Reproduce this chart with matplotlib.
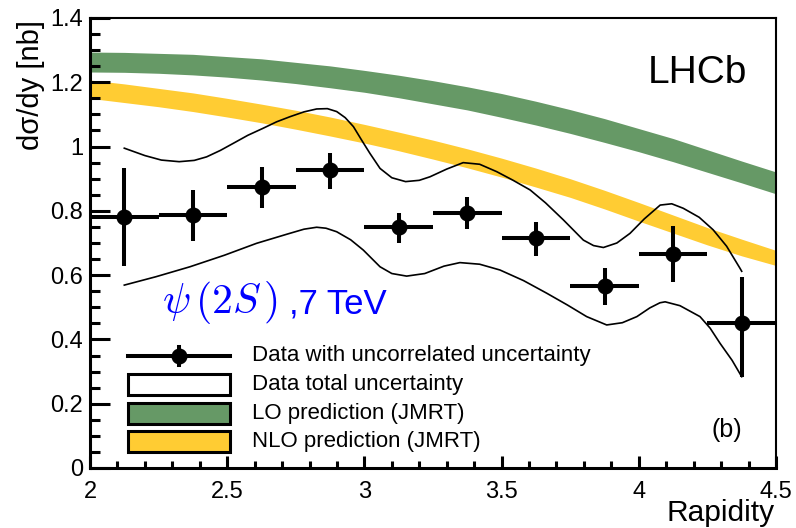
import matplotlib
matplotlib.use("Agg")
import matplotlib.pyplot as plt
from matplotlib.patches import Rectangle
from matplotlib.ticker import MultipleLocator, FormatStrFormatter
import numpy as np

plt.rcParams['font.family'] = ['Liberation Sans', 'DejaVu Sans']
plt.rcParams['mathtext.fontset'] = 'cm'

# ---- data ----
bin_centres = [2.125, 2.375, 2.625, 2.875, 3.125, 3.375, 3.625, 3.875, 4.125, 4.375]
bin_halfwidth = 0.125
xsec = [0.782, 0.787, 0.873, 0.927, 0.751, 0.794, 0.715, 0.566, 0.666, 0.452]
err_up = [0.932, 0.865, 0.937, 0.981, 0.794, 0.844, 0.764, 0.621, 0.753, 0.595]
err_lo = [0.630, 0.707, 0.810, 0.868, 0.699, 0.744, 0.660, 0.507, 0.580, 0.284]

tot_up_x = [2.125, 2.20, 2.26, 2.325, 2.38, 2.425, 2.475, 2.522, 2.575, 2.631, 2.68, 2.729,
            2.78, 2.826, 2.865, 2.899, 2.93, 2.96, 2.99, 3.02, 3.057, 3.10, 3.15, 3.20,
            3.239, 3.30, 3.36, 3.42, 3.482, 3.54, 3.604, 3.66, 3.725, 3.798, 3.835, 3.871,
            3.92, 3.968, 4.02, 4.078, 4.12, 4.162, 4.22, 4.271, 4.32, 4.369, 4.375]
tot_up_y = [0.995, 0.972, 0.958, 0.953, 0.957, 0.968, 0.988, 1.010, 1.035, 1.057, 1.077, 1.093,
            1.108, 1.117, 1.118, 1.109, 1.090, 1.062, 1.020, 0.979, 0.932, 0.903, 0.891, 0.895,
            0.906, 0.930, 0.950, 0.945, 0.922, 0.896, 0.865, 0.825, 0.772, 0.709, 0.692, 0.686,
            0.700, 0.730, 0.775, 0.818, 0.822, 0.808, 0.780, 0.741, 0.690, 0.621, 0.612]

tot_lo_x = [2.125, 2.24, 2.364, 2.49, 2.607, 2.72, 2.78, 2.826, 2.86, 2.899, 2.95, 2.996,
            3.057, 3.10, 3.154, 3.22, 3.29, 3.348, 3.42, 3.494, 3.58, 3.664, 3.74, 3.81,
            3.883, 3.94, 3.993, 4.04, 4.077, 4.096, 4.15, 4.223, 4.26, 4.296, 4.34, 4.375]
tot_lo_y = [0.569, 0.595, 0.626, 0.662, 0.699, 0.728, 0.743, 0.749, 0.746, 0.735, 0.710, 0.678,
            0.626, 0.605, 0.597, 0.605, 0.628, 0.639, 0.634, 0.616, 0.583, 0.544, 0.507, 0.471,
            0.445, 0.452, 0.471, 0.498, 0.514, 0.517, 0.505, 0.471, 0.435, 0.388, 0.335, 0.284]

band_x = [2.0, 2.125, 2.25, 2.375, 2.5, 2.625, 2.75, 2.875, 3.0, 3.125, 3.25,
          3.375, 3.5, 3.625, 3.75, 3.875, 4.0, 4.125, 4.25, 4.375, 4.5]
lo_band_low = [1.232, 1.231, 1.228, 1.223, 1.216, 1.207, 1.196, 1.183, 1.169, 1.152, 1.133,
               1.114, 1.091, 1.067, 1.041, 1.013, 0.984, 0.953, 0.920, 0.887, 0.853]
lo_band_high = [1.294, 1.293, 1.290, 1.287, 1.280, 1.273, 1.262, 1.251, 1.237, 1.222, 1.205,
                1.186, 1.165, 1.141, 1.115, 1.087, 1.056, 1.025, 0.990, 0.955, 0.921]
nlo_band_low = [1.150, 1.137, 1.124, 1.109, 1.092, 1.074, 1.054, 1.033, 1.011, 0.987, 0.961,
                0.934, 0.905, 0.874, 0.842, 0.806, 0.768, 0.731, 0.694, 0.660, 0.630]
nlo_band_high = [1.207, 1.195, 1.181, 1.167, 1.150, 1.132, 1.113, 1.092, 1.069, 1.045, 1.020,
                 0.993, 0.964, 0.933, 0.900, 0.864, 0.826, 0.787, 0.748, 0.712, 0.677]

legend_labels = ["Data with uncorrelated uncertainty", "Data total uncertainty",
                 "LO prediction (JMRT)", "NLO prediction (JMRT)"]

GREEN = '#669966'
YELLOW = '#ffcc33'
BLUE = '#0000ff'

# ---- figure ----
W, H = 796, 528
fig = plt.figure(figsize=(W / 100, H / 100), dpi=100)
AX_L, AX_R, AX_T, AX_B = 90, 776, 18, 468
ax = fig.add_axes([AX_L / W, (H - AX_B) / H, (AX_R - AX_L) / W, (AX_B - AX_T) / H])


def pa(x, y):
    """pixel position -> axes fraction"""
    return ((x - AX_L) / (AX_R - AX_L), (AX_B - y) / (AX_B - AX_T))


ax.fill_between(band_x, lo_band_low, lo_band_high, color=GREEN, lw=0, zorder=1)
ax.fill_between(band_x, nlo_band_low, nlo_band_high, color=YELLOW, lw=0, zorder=1)

ax.plot(tot_up_x, tot_up_y, color='k', lw=1.2, zorder=2, solid_joinstyle='round')
ax.plot(tot_lo_x, tot_lo_y, color='k', lw=1.2, zorder=2, solid_joinstyle='round')

xs = np.array(xsec)
yerr = [xs - np.array(err_lo), np.array(err_up) - xs]
ax.errorbar(bin_centres, xsec, xerr=bin_halfwidth, yerr=yerr, fmt='o', color='k',
            ms=10.5, elinewidth=2.9, capsize=0, zorder=3)

ax.set_xlim(2.0, 4.5)
ax.set_ylim(0, 1.4)
ax.xaxis.set_major_locator(MultipleLocator(0.5))
ax.xaxis.set_minor_locator(MultipleLocator(0.1))
ax.yaxis.set_major_locator(MultipleLocator(0.2))
ax.yaxis.set_minor_locator(MultipleLocator(0.05))
ax.xaxis.set_major_formatter(FormatStrFormatter('%g'))
ax.yaxis.set_major_formatter(FormatStrFormatter('%g'))
ax.tick_params(axis='both', which='both', direction='in', top=False, right=False,
               width=2.2, labelsize=17)
ax.tick_params(axis='y', which='major', length=14.4, pad=5)
ax.tick_params(axis='y', which='minor', length=7.2)
ax.tick_params(axis='x', which='major', length=8.6, pad=9)
ax.tick_params(axis='x', which='minor', length=5)
for s in ['left', 'bottom']:
    ax.spines[s].set_linewidth(2.2)
for s in ['top', 'right']:
    ax.spines[s].set_linewidth(1.5)

fig.text(31 / W, 1 - 20 / H, 'd\u03c3/dy [nb]', rotation=90, ha='center', va='top', fontsize=21)
fig.text(775 / W, 1 - 521 / H, 'Rapidity', ha='right', va='baseline', fontsize=21.5)

ax.text(*pa(747, 83), 'LHCb', transform=ax.transAxes, ha='right', va='baseline', fontsize=28)
ax.text(*pa(742, 437), '(b)', transform=ax.transAxes, ha='right', va='baseline', fontsize=18)
ax.text(*pa(162, 313), r'$\psi\,(2S\,)$', transform=ax.transAxes, ha='left', va='baseline',
        fontsize=30, color=BLUE)
ax.text(*pa(289, 313), ',7 TeV', transform=ax.transAxes, ha='left', va='baseline',
        fontsize=25, color=BLUE)

# ---- legend ----
rows = [356, 384.5, 413, 441.5]
hx0, hx1 = 128, 230
for i, (yy, lab) in enumerate(zip(rows, legend_labels)):
    if i == 0:
        p0, p1 = pa(hx0, yy), pa(hx1, yy)
        ax.plot([p0[0], p1[0]], [p0[1], p1[1]], color='k', lw=2.9, transform=ax.transAxes,
                clip_on=False, zorder=4)
        q0, q1 = pa(179, yy - 9), pa(179, yy + 9)
        ax.plot([q0[0], q1[0]], [q0[1], q1[1]], color='k', lw=2.9, transform=ax.transAxes,
                clip_on=False, zorder=4)
        m = pa(179, yy)
        ax.plot([m[0]], [m[1]], 'o', color='k', ms=10.5, transform=ax.transAxes,
                clip_on=False, zorder=4)
    else:
        fc = ['white', GREEN, YELLOW][i - 1]
        ll = pa(hx0, yy + 10.5)
        ax.add_patch(Rectangle(ll, (hx1 - hx0) / (AX_R - AX_L), 21 / (AX_B - AX_T),
                               transform=ax.transAxes, facecolor=fc, edgecolor='k',
                               lw=2.2, zorder=4))
    ax.text(*pa(252, yy), lab, transform=ax.transAxes, ha='left', va='center',
            fontsize=16, zorder=4)

fig.savefig('out.png', dpi=100)
